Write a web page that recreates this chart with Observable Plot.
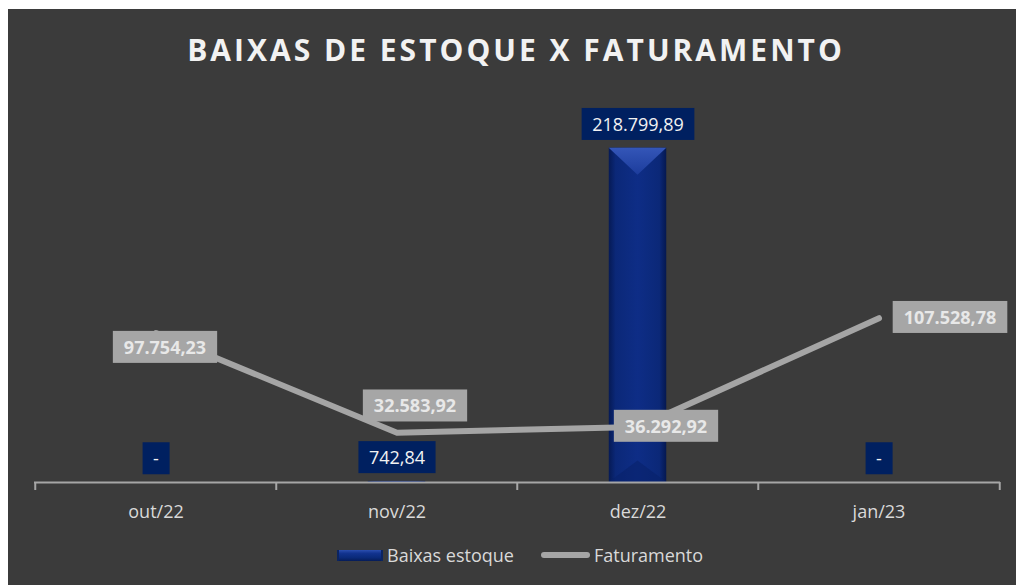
<!DOCTYPE html>
<html>
<head>
<meta charset="utf-8">
<script src="https://cdn.jsdelivr.net/npm/d3@7"></script>
<script src="https://cdn.jsdelivr.net/npm/@observablehq/plot@0.6"></script>
<style>
  html, body { margin: 0; padding: 0; background: #ffffff; }
  #card { position: absolute; left: 8px; top: 9px; width: 1008px; height: 576px; background: #3b3b3b; overflow: hidden; font-family: "Open Sans", sans-serif; }
  #title { position: absolute; left: 0; top: 21px; width: 1008px; padding-left: 8px; box-sizing: border-box; text-align: center; font-size: 30px; line-height: 40px; font-weight: 700; letter-spacing: 3px; color: #f2f2f2; }
  #chart { position: absolute; left: 0; top: 85px; }
  #legend { position: absolute; left: 329px; top: 534px; height: 24px; display: flex; align-items: center; font-size: 18px; color: #d9d9d9; }
  .sw-bar { width: 46px; height: 11px; background: linear-gradient(to bottom, #2b4fb0 0%, #12338f 30%, #0a2a7a 70%, #061c58 100%); margin-right: 4px; box-shadow: inset 2px 0 0 #0b2460, inset -2px 0 0 #0b2460; }
  .sw-line { width: 49px; height: 6px; border-radius: 3px; background: #a5a5a5; margin-left: 27px; margin-right: 4px; }
</style>
</head>
<body>
<div id="card">
  <div id="title">BAIXAS DE ESTOQUE X FATURAMENTO</div>
  <div id="chart"></div>
  <div id="legend"><div class="sw-bar"></div><span>Baixas estoque</span><div class="sw-line"></div><span>Faturamento</span></div>
</div>
<script>
// ---- data ----
const categories = ["out/22", "nov/22", "dez/22", "jan/23"];
const baixasEstoque = [0, 742.84, 218799.89, 0];
const faturamento = [97754.23, 32583.92, 36292.92, 107528.78];

// ---- layout ----
const W = 1008, H = 436, mL = 26, mR = 16, mT = 6, mB = 48;
const step = (W - mL - mR) / categories.length;
const barWidth = 58;
const fatLabelOffsets = [[9, 15], [18, -26], [28, 0], [71, 0]];

const br = d3.formatLocale({decimal: ",", thousands: ".", grouping: [3], currency: ["R$", ""]});
const fmt = br.format(",.2f");
const fmtBar = v => v === 0 ? "-" : fmt(v);

const data = categories.map((c, i) => ({cat: c, baixas: baixasEstoque[i], fat: faturamento[i], i}));

const fatLabels = data.map((d, i) => Plot.text([d], {
  x: "cat", y: "fat", text: d => fmt(d.fat),
  dx: fatLabelOffsets[i][0], dy: fatLabelOffsets[i][1],
  fill: "#e8e8e8", fontSize: 18, fontWeight: 700
}));

const plot = Plot.plot({
  width: W, height: H,
  marginLeft: mL, marginRight: mR, marginTop: mT, marginBottom: mB,
  style: {fontFamily: "Open Sans", background: "transparent", overflow: "visible"},
  x: {type: "band", domain: categories, padding: 0, label: null},
  y: {domain: [0, 250000], axis: null},
  marks: [
    Plot.axisX({tickSize: 0, tickPadding: 23, fontSize: 18, fill: "#d9d9d9", label: null}),
    Plot.barY(data, {x: "cat", y: "baixas", fill: "url(#barGrad)", insetLeft: (step - barWidth) / 2, insetRight: (step - barWidth) / 2}),
    Plot.ruleY([0], {stroke: "#a6a6a6", strokeWidth: 2}),
    Plot.ruleX(categories, {x: d => d, y1: 0, y2: 0, dx: -step / 2, insetBottom: -8, stroke: "#a6a6a6", strokeWidth: 2}),
    Plot.ruleX([categories[categories.length - 1]], {x: d => d, y1: 0, y2: 0, dx: step / 2, insetBottom: -8, stroke: "#a6a6a6", strokeWidth: 2}),
    Plot.line(data, {x: "cat", y: "fat", stroke: "#a5a5a5", strokeWidth: 6, strokeLinecap: "round", strokeLinejoin: "round"}),
    Plot.text(data, {x: "cat", y: "baixas", text: d => fmtBar(d.baixas), dy: -23, fill: "#f2f2f2", fontSize: 18}),
    ...fatLabels
  ]
});

document.getElementById("chart").appendChild(plot);

const ns = "http://www.w3.org/2000/svg";
const svg = plot;
const defs = document.createElementNS(ns, "defs");
defs.innerHTML = `
  <linearGradient id="barGrad" x1="0" x2="1" y1="0" y2="0">
    <stop offset="0" stop-color="#061a55"/>
    <stop offset="0.12" stop-color="#0b2878"/>
    <stop offset="0.5" stop-color="#0e2d86"/>
    <stop offset="0.88" stop-color="#0b2878"/>
    <stop offset="1" stop-color="#051850"/>
  </linearGradient>
  <linearGradient id="bevelGrad" x1="0" x2="0" y1="0" y2="1">
    <stop offset="0" stop-color="#3456b8"/>
    <stop offset="1" stop-color="#1c3c9c"/>
  </linearGradient>`;
svg.insertBefore(defs, svg.firstChild);

try {
  // bevel on bars
  svg.querySelectorAll('g[fill="url(#barGrad)"] rect').forEach(r => {
    const x = +r.getAttribute("x"), y = +r.getAttribute("y"), w = +r.getAttribute("width"), h = +r.getAttribute("height");
    if (!(h > 2)) return;
    const depth = Math.min(h / 2, w * 0.47);
    const p = document.createElementNS(ns, "polygon");
    p.setAttribute("points", `${x},${y} ${x + w},${y} ${x + w / 2},${y + depth}`);
    p.setAttribute("fill", "url(#bevelGrad)");
    r.parentNode.appendChild(p);
    const b = document.createElementNS(ns, "polygon");
    b.setAttribute("points", `${x},${y + h} ${x + w},${y + h} ${x + w / 2},${y + h - depth * 0.8}`);
    b.setAttribute("fill", "#08226b");
    b.setAttribute("opacity", "0.6");
    r.parentNode.appendChild(b);
  });

  // label boxes
  function boxes(sel, fill, padX, h) {
    svg.querySelectorAll(sel).forEach(t => {
      const bb = t.getBBox();
      const rect = document.createElementNS(ns, "rect");
      const cy = bb.y + bb.height / 2;
      rect.setAttribute("x", bb.x - padX);
      rect.setAttribute("y", cy - h / 2);
      rect.setAttribute("width", bb.width + 2 * padX);
      rect.setAttribute("height", h);
      rect.setAttribute("fill", fill);
      const tr = t.getAttribute("transform");
      if (tr) rect.setAttribute("transform", tr);
      t.parentNode.insertBefore(rect, t);
    });
  }
  boxes('g[fill="#f2f2f2"] text', "#002060", 10.5, 32);
  boxes('g[font-weight="700"] text', "#a6a6a6", 11, 32);
} catch (e) { console.error(e); }
</script>
</body>
</html>
